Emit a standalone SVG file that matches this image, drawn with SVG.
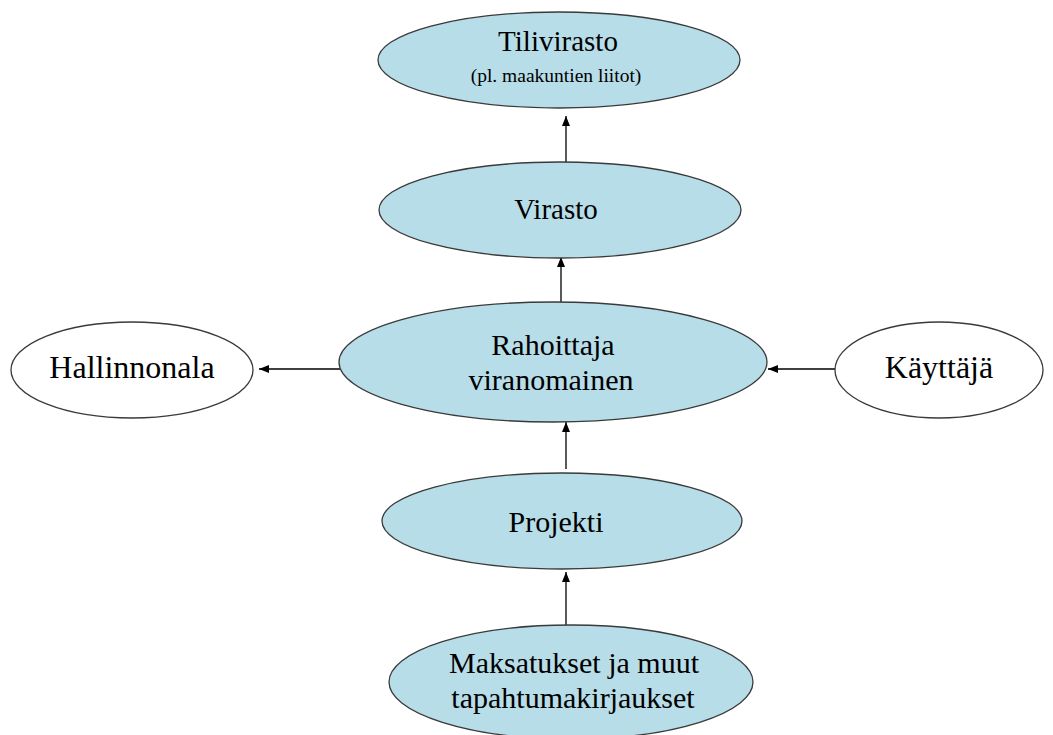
<svg xmlns="http://www.w3.org/2000/svg" width="1053" height="735" viewBox="0 0 1053 735">
  <defs>
    <marker id="arrow" viewBox="0 0 10 8" refX="10" refY="4" markerWidth="10" markerHeight="8" markerUnits="userSpaceOnUse" orient="auto">
      <path d="M0,0 L10,4 L0,8 Z" fill="#000"/>
    </marker>
  </defs>
  <style>
    .blue { fill: #b7dde8; stroke: #3a3a3a; stroke-width: 1.3; }
    .white { fill: #ffffff; stroke: #3a3a3a; stroke-width: 1.3; }
    .lbl { font-family: "Liberation Serif", "Times New Roman", serif; fill: #000; text-anchor: middle; }
    .edge { stroke: #000; stroke-width: 1.3; fill: none; marker-end: url(#arrow); }
  </style>
  <rect width="1053" height="735" fill="#ffffff"/>

  <g id="connectors">
    <line class="edge" x1="566" y1="162" x2="566" y2="116"/>
    <line class="edge" x1="561" y1="302" x2="561" y2="257"/>
    <line class="edge" x1="566" y1="469" x2="566" y2="422"/>
    <line class="edge" x1="566" y1="625" x2="566" y2="572"/>
    <line class="edge" x1="340" y1="369" x2="259" y2="369"/>
    <line class="edge" x1="835" y1="369" x2="768" y2="369"/>
  </g>

  <g id="tilivirasto">
    <ellipse class="blue" cx="559" cy="60" rx="181" ry="48"/>
    <text class="lbl" x="558" y="51" font-size="29">Tilivirasto</text>
    <text class="lbl" x="556" y="82" font-size="19.5">(pl. maakuntien liitot)</text>
  </g>

  <g id="virasto">
    <ellipse class="blue" cx="560" cy="210" rx="181" ry="48"/>
    <text class="lbl" x="556" y="219" font-size="29">Virasto</text>
  </g>

  <g id="rahoittaja">
    <ellipse class="blue" cx="553" cy="362" rx="214" ry="60"/>
    <text class="lbl" x="553" y="355" font-size="30">Rahoittaja</text>
    <text class="lbl" x="551" y="390" font-size="30">viranomainen</text>
  </g>

  <g id="hallinnonala">
    <ellipse class="white" cx="132" cy="370" rx="121" ry="48"/>
    <text class="lbl" x="132" y="378" font-size="32">Hallinnonala</text>
  </g>

  <g id="kayttaja">
    <ellipse class="white" cx="939" cy="370" rx="104" ry="48"/>
    <text class="lbl" x="939" y="378" font-size="32">Käyttäjä</text>
  </g>

  <g id="projekti">
    <ellipse class="blue" cx="562" cy="521" rx="180" ry="48"/>
    <text class="lbl" x="556" y="532" font-size="30">Projekti</text>
  </g>

  <g id="maksatukset">
    <ellipse class="blue" cx="571" cy="682" rx="182" ry="57"/>
    <text class="lbl" x="574" y="673" font-size="30">Maksatukset ja muut</text>
    <text class="lbl" x="573" y="708" font-size="30">tapahtumakirjaukset</text>
  </g>
</svg>
